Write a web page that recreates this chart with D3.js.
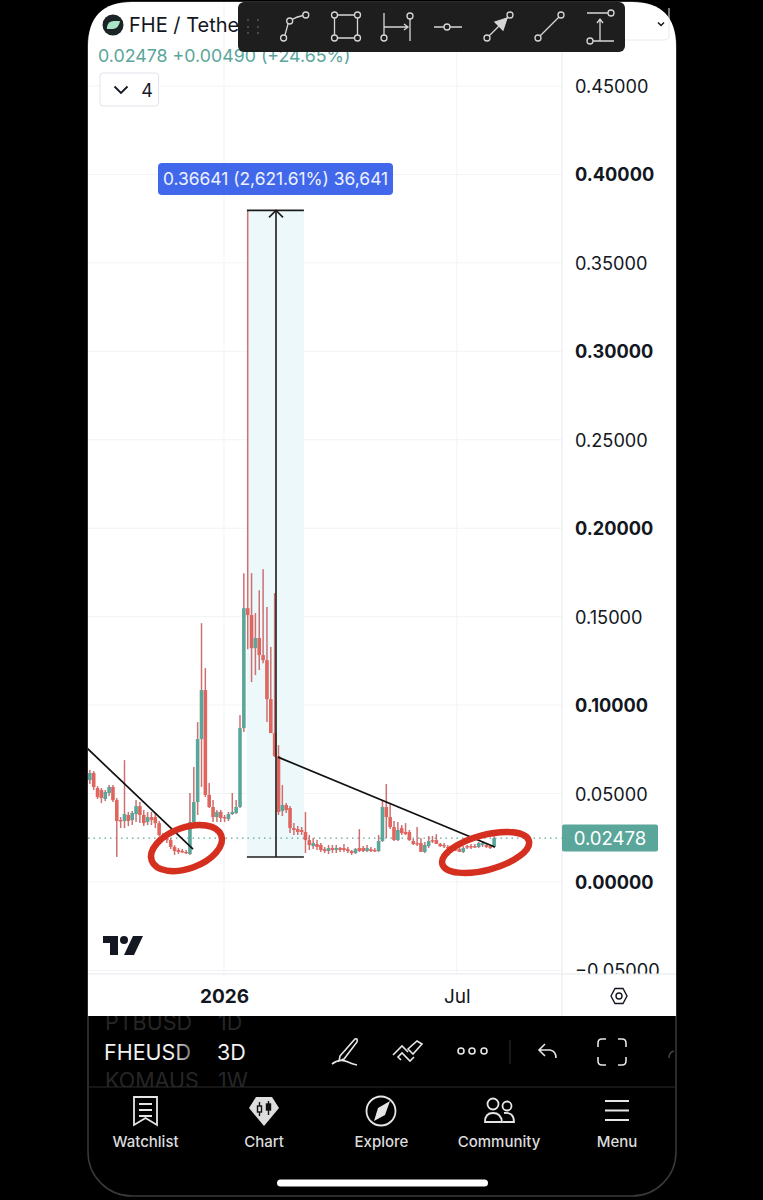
<!DOCTYPE html>
<html>
<head>
<meta charset="utf-8">
<script src="https://cdn.jsdelivr.net/npm/d3@7"></script>
<style>
  html, body { margin: 0; padding: 0; background: #000; }
  svg { display: block; font-family: Inter, "Noto Sans", sans-serif; }
</style>
</head>
<body>
<svg id="chart" width="763" height="1200"></svg>
<script>
// 3D candles
var opens = [.0576,.0576,.0616,.0531,.0520,.0469,.0503,.0537,.0463,.0350,.0345,.0379,.0350,.0384,.0429,.0379,.0339,.0367,.0367,.0333,.0266,.0249,.0237,.0198,.0181,.0175,.0170,.0158,.0339,.0452,.0808,.1085,.0492,.0424,.0367,.0396,.0367,.0356,.0384,.0390,.0424,.0870,.1548,.1509,.1322,.1379,.1283,.1254,.1034,.0842,.0712,.0401,.0435,.0418,.0305,.0299,.0294,.0283,.0237,.0203,.0215,.0209,.0186,.0175,.0192,.0181,.0192,.0192,.0186,.0175,.0164,.0192,.0192,.0175,.0186,.0181,.0175,.0232,.0424,.0367,.0311,.0237,.0305,.0283,.0283,.0232,.0220,.0220,.0170,.0203,.0237,.0237,.0215,.0209,.0198,.0192,.0186,.0186,.0170,.0203,.0203,.0203,.0198,.0209,.0209,.0203,.0198];
var closes = [.0622,.0616,.0537,.0480,.0475,.0509,.0537,.0463,.0345,.0345,.0384,.0345,.0390,.0429,.0379,.0333,.0367,.0350,.0333,.0266,.0249,.0237,.0198,.0175,.0170,.0170,.0164,.0339,.0452,.0808,.1085,.0492,.0424,.0367,.0396,.0362,.0362,.0384,.0396,.0424,.0870,.1548,.1509,.1322,.1379,.1283,.1254,.1034,.0842,.0712,.0396,.0435,.0407,.0305,.0294,.0283,.0283,.0237,.0209,.0220,.0198,.0181,.0175,.0192,.0181,.0192,.0181,.0181,.0175,.0164,.0186,.0175,.0175,.0192,.0175,.0175,.0232,.0424,.0367,.0311,.0237,.0294,.0277,.0271,.0237,.0215,.0215,.0170,.0209,.0232,.0232,.0215,.0203,.0203,.0192,.0186,.0181,.0170,.0192,.0198,.0198,.0198,.0220,.0220,.0198,.0192,.02478];
var highs = [.0633,.0633,.0627,.0542,.0531,.0520,.0548,.0548,.0475,.0367,.0689,.0396,.0401,.0463,.0452,.0407,.0396,.0396,.0390,.0345,.0277,.0260,.0249,.0209,.0192,.0186,.0181,.0503,.0650,.0904,.1463,.1209,.0559,.0463,.0407,.0407,.0379,.0396,.0503,.0463,.0944,.1746,.3797,.1746,.1520,.1650,.1768,.1554,.1328,.1633,.0774,.0548,.0446,.0429,.0333,.0316,.0311,.0396,.0266,.0249,.0237,.0220,.0198,.0209,.0209,.0209,.0198,.0215,.0198,.0181,.0192,.0299,.0203,.0209,.0198,.0192,.0266,.0463,.0554,.0446,.0345,.0339,.0322,.0333,.0294,.0243,.0311,.0249,.0226,.0260,.0260,.0271,.0220,.0220,.0209,.0203,.0198,.0198,.0203,.0209,.0215,.0215,.0226,.0232,.0220,.0209,.0260];
var lows = [.0548,.0554,.0520,.0469,.0446,.0458,.0486,.0452,.0141,.0305,.0305,.0316,.0322,.0339,.0333,.0316,.0322,.0322,.0305,.0260,.0237,.0220,.0186,.0153,.0158,.0164,.0158,.0153,.0333,.0379,.0537,.0480,.0418,.0339,.0339,.0339,.0339,.0345,.0379,.0384,.0418,.0848,.1316,.1130,.1170,.1198,.1237,.0904,.0842,.0706,.0379,.0373,.0390,.0277,.0266,.0266,.0266,.0164,.0181,.0186,.0181,.0170,.0164,.0158,.0164,.0164,.0170,.0170,.0164,.0153,.0158,.0170,.0170,.0170,.0170,.0170,.0170,.0226,.0249,.0299,.0232,.0232,.0266,.0266,.0232,.0209,.0203,.0170,.0164,.0192,.0220,.0215,.0198,.0192,.0181,.0175,.0175,.0170,.0164,.0186,.0186,.0192,.0192,.0198,.0192,.0186,.0192];

var priceTicks = [-0.05, 0, 0.05, 0.10, 0.15, 0.20, 0.25, 0.30, 0.35, 0.40, 0.45];
var boldTicks = [0, 0.10, 0.20, 0.30, 0.40];
var timeTicks = [35.85, 96.3];
var timeLabels = ["2026", "Jul"];
var lastPrice = 0.02478;

// drawings, in candle index / price
var rangeBox = { i0: 41.8, i1: 56.6, iMid: 49.35, low: 0.0141, high: 0.3797 };
var trendLines = [
  [[0.26, 0.0757], [27.8, 0.0186]],
  [[49.87, 0.0706], [106.2, 0.0198]]
];
var circles = [
  { i: 26.1, p: 0.0192, rx: 37, ry: 20.5, rot: -20 },
  { i: 103.8, p: 0.0167, rx: 44.8, ry: 17.5, rot: -15 }
];

var teal = "#5aa69a", red = "#e0655f", wick = "#cc7072", ink = "#131722", grid = "#f1f3f6";

var svg = d3.select("#chart");
var x = d3.scaleLinear().domain([0, 106]).range([86, 494.1]);
var y = d3.scaleLinear().domain([0, 0.45]).range([882, 86]);

// phone screen
svg.append("rect").attr("width", 763).attr("height", 1200).attr("fill", "#000");
svg.append("rect").attr("x", 88).attr("y", 2).attr("width", 588).attr("height", 1194)
  .attr("rx", 44).attr("fill", "#000").attr("stroke", "#3a3a3c").attr("stroke-width", 1.5);
svg.append("path").attr("fill", "#fff")
  .attr("d", "M88 1016V46Q88 2 132 2H632Q676 2 676 46V1016Z");

var defs = svg.append("defs");
defs.append("clipPath").attr("id", "pane").append("rect")
  .attr("x", 88).attr("y", 2).attr("width", 474).attr("height", 972);
defs.append("clipPath").attr("id", "scaleClip").append("rect")
  .attr("x", 562).attr("y", 2).attr("width", 114).attr("height", 972);
defs.append("clipPath").attr("id", "rowClip").append("rect")
  .attr("x", 88).attr("y", 1016).attr("width", 300).attr("height", 71);
var fade = defs.append("linearGradient").attr("id", "symFade");
fade.append("stop").attr("offset", "0.8").attr("stop-color", "#f2f2f2");
fade.append("stop").attr("offset", "1").attr("stop-color", "#777");

var pane = svg.append("g").attr("clip-path", "url(#pane)");

// grid
pane.selectAll(".hgrid").data(priceTicks).enter().append("line")
  .attr("x1", 88).attr("x2", 562).attr("y1", d => y(d)).attr("y2", d => y(d))
  .attr("stroke", grid);
pane.selectAll(".vgrid").data(timeTicks).enter().append("line")
  .attr("x1", d => x(d)).attr("x2", d => x(d)).attr("y1", 2).attr("y2", 974)
  .attr("stroke", grid);

// price range drawing, fill goes under the candles
pane.append("rect")
  .attr("x", x(rangeBox.i0)).attr("width", x(rangeBox.i1) - x(rangeBox.i0))
  .attr("y", y(rangeBox.high)).attr("height", y(rangeBox.low) - y(rangeBox.high))
  .attr("fill", "#edf8fb");

// dotted last price
pane.append("line").attr("x1", 88).attr("x2", 562)
  .attr("y1", y(lastPrice)).attr("y2", y(lastPrice))
  .attr("stroke", teal).attr("stroke-width", 1.2).attr("stroke-dasharray", "1.5 4");

// candles
var candles = pane.selectAll(".candle").data(opens).enter().append("g");
candles.append("line")
  .attr("x1", (d, i) => x(i)).attr("x2", (d, i) => x(i))
  .attr("y1", (d, i) => y(highs[i])).attr("y2", (d, i) => y(lows[i]))
  .attr("stroke", wick)
  .attr("stroke-width", 1.5);
candles.append("rect")
  .attr("x", (d, i) => x(i) - 1.8).attr("width", 3.6)
  .attr("y", (d, i) => y(Math.max(opens[i], closes[i])))
  .attr("height", (d, i) => Math.max(1.4, Math.abs(y(opens[i]) - y(closes[i]))))
  .attr("fill", (d, i) => closes[i] >= opens[i] ? teal : red);

// range lines and arrow
var rx0 = x(rangeBox.i0), rx1 = x(rangeBox.i1), rxm = x(rangeBox.iMid);
var rTop = y(rangeBox.high), rBot = y(rangeBox.low);
var ranges = pane.append("g").attr("stroke", "#1c1c1c").attr("fill", "none").attr("stroke-width", 1.6);
ranges.append("line").attr("x1", rx0).attr("x2", rx1).attr("y1", rTop).attr("y2", rTop);
ranges.append("line").attr("x1", rx0).attr("x2", rx1).attr("y1", rBot).attr("y2", rBot);
ranges.append("line").attr("x1", rxm).attr("x2", rxm).attr("y1", rBot).attr("y2", rTop);
ranges.append("path").attr("d", `M${rxm - 7} ${rTop + 7}L${rxm} ${rTop}L${rxm + 7} ${rTop + 7}`);

var lineGen = d3.line().x(d => x(d[0])).y(d => y(d[1]));
pane.selectAll(".trend").data(trendLines).enter().append("path")
  .attr("d", lineGen).attr("fill", "none").attr("stroke", "#111").attr("stroke-width", 1.7);

// hand drawn red circles
pane.selectAll(".mark").data(circles).enter().append("ellipse")
  .attr("rx", d => d.rx).attr("ry", d => d.ry)
  .attr("transform", d => `translate(${x(d.i)},${y(d.p)}) rotate(${d.rot})`)
  .attr("fill", "none").attr("stroke", "#d5301f").attr("stroke-width", 6.5);

// range label
svg.append("rect").attr("x", 158).attr("y", 163).attr("width", 235).attr("height", 32)
  .attr("rx", 4).attr("fill", "#4168ea");
svg.append("text").attr("x", 275.5).attr("y", 185).attr("text-anchor", "middle")
  .attr("font-size", 17.4).attr("fill", "#eef2ff").text("0.36641 (2,621.61%) 36,641");

// tv logo
pane.append("path").attr("fill", ink)
  .attr("d", "M103 936H118V955H110V943H103Z");
pane.append("circle").attr("cx", 124).attr("cy", 940).attr("r", 4).attr("fill", ink);
pane.append("path").attr("fill", ink).attr("d", "M133 936H143L134 955H124Z");

// price scale
var scaleG = svg.append("g").attr("clip-path", "url(#scaleClip)");
var yAxis = d3.axisRight(y).tickValues(priceTicks).tickSize(0).tickPadding(13)
  .tickFormat(d => d3.format(".5f")(d).replace("-", "\u2212"));
scaleG.append("g").attr("transform", "translate(562,0.7)").call(yAxis)
  .call(g => g.select(".domain").remove())
  .selectAll("text")
  .attr("font-family", "Inter, sans-serif").attr("font-size", 18.2).attr("fill", ink)
  .attr("font-weight", d => boldTicks.indexOf(d) >= 0 ? 700 : 400);
svg.append("line").attr("x1", 562).attr("x2", 562).attr("y1", 2).attr("y2", 1016).attr("stroke", "#e6e8ec");
svg.append("line").attr("x1", 88).attr("x2", 676).attr("y1", 974).attr("y2", 974).attr("stroke", "#e6e8ec");

// last price tag
svg.append("rect").attr("x", 562).attr("y", 824.5).attr("width", 96).attr("height", 27)
  .attr("rx", 2).attr("fill", teal);
svg.append("text").attr("x", 610).attr("y", 845).attr("text-anchor", "middle")
  .attr("font-size", 18.6).attr("fill", "#fff").text(lastPrice.toFixed(5));

// time axis
var xAxis = d3.axisBottom(x).tickValues(timeTicks).tickSize(0).tickPadding(16)
  .tickFormat((d, i) => timeLabels[i]);
svg.append("g").attr("transform", "translate(0,974)").call(xAxis)
  .call(g => g.select(".domain").remove())
  .selectAll("text")
  .attr("font-family", "Inter, sans-serif").attr("font-size", 19).attr("fill", ink)
  .attr("font-weight", (d, i) => i == 0 ? 700 : 400);
svg.append("path").attr("fill", "none").attr("stroke", ink).attr("stroke-width", 1.4)
  .attr("d", "M611 996L615 988.5H623L627 996L623 1003.5H615Z");
svg.append("circle").attr("cx", 619).attr("cy", 996).attr("r", 3)
  .attr("fill", "none").attr("stroke", ink).attr("stroke-width", 1.4);

// header
svg.append("circle").attr("cx", 113).attr("cy", 25).attr("r", 10.5).attr("fill", "#1c2427");
svg.append("path").attr("fill", "#a9e6c8").attr("d", "M107 27Q108 21 114 21H120Q119 28 113 29H107Z");
svg.append("text").attr("x", 129).attr("y", 31.5).attr("font-size", 20).attr("fill", ink).text("FHE / Tethe");
svg.append("text").attr("x", 98).attr("y", 61.5).attr("font-size", 17.8).attr("fill", teal)
  .text("0.02478 +0.00490 (+24.65%)");

svg.append("rect").attr("x", 100).attr("y", 73).attr("width", 58.5).attr("height", 33)
  .attr("rx", 3).attr("fill", "#fff").attr("stroke", "#e0e3eb");
svg.append("path").attr("fill", "none").attr("stroke", ink).attr("stroke-width", 1.8)
  .attr("d", "M114.5 86.5L121 93L127.5 86.5");
svg.append("text").attr("x", 147).attr("y", 96.5).attr("text-anchor", "middle")
  .attr("font-size", 18).attr("fill", ink).text("4");

svg.append("path").attr("fill", "none").attr("stroke", "#e8eaee")
  .attr("d", "M625 40H664Q669 40 669 35V8");
svg.append("path").attr("fill", "none").attr("stroke", ink).attr("stroke-width", 1.5)
  .attr("d", "M658 22.5L661 25.5L664 22.5");

// floating drawing toolbar
svg.append("rect").attr("x", 238).attr("y", 2).attr("width", 387).attr("height", 50)
  .attr("rx", 6).attr("fill", "#1e1e1e");
var bar = svg.append("g").attr("fill", "none").attr("stroke", "#d6d6d6").attr("stroke-width", 1.3);
[248, 258].forEach(a => [20, 27, 33].forEach(b => {
  svg.append("circle").attr("cx", a).attr("cy", b).attr("r", 1).attr("fill", "#5a5a5a");
}));
function dot(cx, cy) { bar.append("circle").attr("cx", cx).attr("cy", cy).attr("r", 3); }
bar.append("path").attr("d", "M285 35L288 24M292 19.5Q296 17 303 15.5");
dot(283.6, 38); dot(289.7, 21); dot(305.8, 15);
bar.append("path").attr("d", "M337.5 15H354.5M337.5 38H354.5M334.5 18V35M357.5 18V35");
dot(334.5, 15); dot(357.5, 15); dot(334.5, 38); dot(357.5, 38);
bar.append("path").attr("d", "M384 13V35M410 19V41M384 27H408M404 24L408 27L404 30");
dot(384, 38); dot(410, 16);
bar.append("path").attr("d", "M434 27H444M450 27H462");
dot(447, 27);
bar.append("path").attr("d", "M489 36L508 17");
bar.append("path").attr("fill", "#d6d6d6").attr("d", "M507 18L495 22L503 30Z");
dot(487, 38); dot(510, 15);
bar.append("path").attr("d", "M540 36L559 17");
dot(538, 38); dot(561, 15);
bar.append("path").attr("d", "M587 13H608M593 41H614M600 41V19M597 23L600 19L603 23");
dot(611, 13); dot(590, 41);

// symbol row below the chart
var rows = svg.append("g").attr("clip-path", "url(#rowClip)");
rows.append("text").attr("x", 105).attr("y", 1030).attr("font-size", 21.5).attr("fill", "#262626").text("PTBUSD");
rows.append("text").attr("x", 218).attr("y", 1030).attr("font-size", 21.5).attr("fill", "#262626").text("1D");
rows.append("text").attr("x", 105).attr("y", 1088).attr("font-size", 21.5).attr("fill", "#262626").text("KOMAUS");
rows.append("text").attr("x", 218).attr("y", 1088).attr("font-size", 21.5).attr("fill", "#262626").text("1W");
svg.append("text").attr("x", 104).attr("y", 1060).attr("font-size", 21.5).attr("fill", "url(#symFade)").text("FHEUSD");
svg.append("text").attr("x", 217).attr("y", 1060).attr("font-size", 21.5).attr("fill", "#f2f2f2").text("3D");

var tools = svg.append("g").attr("fill", "none").attr("stroke", "#e6e6e6").attr("stroke-width", 1.6);
tools.append("path").attr("d", "M340 1056L355 1039Q358 1038 357 1042L344 1059L339 1061ZM332 1064Q340 1058 348 1062Q352 1064 357 1065");
tools.append("path").attr("d", "M393 1055L402 1046L408 1052M401 1060L398 1057L402 1053L410 1061L414 1057M408 1049L413 1054L422 1044L417 1041Z");
[461, 472, 484].forEach(cx => tools.append("circle").attr("cx", cx).attr("cy", 1051).attr("r", 3));
svg.append("line").attr("x1", 510).attr("x2", 510).attr("y1", 1040).attr("y2", 1064).attr("stroke", "#333");
tools.append("path").attr("d", "M545 1044L539 1050L545 1056M539 1050H550Q556 1051 556 1058");
tools.append("path").attr("d", "M598 1047V1043Q598 1039 602 1039H606M618 1039H622Q626 1039 626 1043V1047M598 1057V1061Q598 1065 602 1065H606M618 1065H622Q626 1065 626 1061V1057");
svg.append("path").attr("fill", "none").attr("stroke", "#444").attr("stroke-width", 1.5)
  .attr("d", "M669 1058Q669 1052 674 1051");
svg.append("line").attr("x1", 88).attr("x2", 676).attr("y1", 1087).attr("y2", 1087).attr("stroke", "#2b2b2b");

// bottom nav
var navNames = ["Watchlist", "Chart", "Explore", "Community", "Menu"];
var navX = [145.5, 264, 381.5, 499, 617];
svg.selectAll(".nav").data(navNames).enter().append("text")
  .attr("x", (d, i) => navX[i]).attr("y", 1146.5).attr("text-anchor", "middle")
  .attr("font-size", 15).attr("font-weight", 500).attr("fill", "#dcdcdc").text(d => d);

var nav = svg.append("g").attr("fill", "none").attr("stroke", "#e6e6e6").attr("stroke-width", 1.8);
nav.append("path").attr("d", "M134 1097H157V1125L145.5 1118L134 1125ZM139 1104H152M139 1110H152M139 1116H152");
svg.append("path").attr("fill", "#dedede").attr("d", "M256 1097H272L279 1108L264 1126L249 1108Z");
svg.append("g").attr("stroke", "#111").attr("stroke-width", 1.4).attr("fill", "none")
  .call(g => {
    g.append("path").attr("d", "M259.5 1102V1116M268.5 1101V1115");
    g.append("rect").attr("x", 257.5).attr("y", 1106).attr("width", 4).attr("height", 6).attr("fill", "#dedede");
    g.append("rect").attr("x", 266.5).attr("y", 1104).attr("width", 4).attr("height", 6).attr("fill", "#111");
  });
nav.append("circle").attr("cx", 381).attr("cy", 1111).attr("r", 14.5);
svg.append("path").attr("fill", "#e6e6e6").attr("d", "M390 1101L385 1115L374 1121L378 1108Z");
nav.append("circle").attr("cx", 493).attr("cy", 1104).attr("r", 5.5);
nav.append("circle").attr("cx", 507).attr("cy", 1106).attr("r", 4.5);
nav.append("path").attr("d", "M485 1122Q485 1113 493 1113Q501 1113 502 1122Q501 1122 485 1122ZM504 1113Q514 1112 514 1122H503");
nav.append("path").attr("d", "M605 1101H629M605 1110.5H629M605 1120H629");

svg.append("rect").attr("x", 277).attr("y", 1179.5).attr("width", 211).attr("height", 7)
  .attr("rx", 3.5).attr("fill", "#fff");
</script>
</body>
</html>
